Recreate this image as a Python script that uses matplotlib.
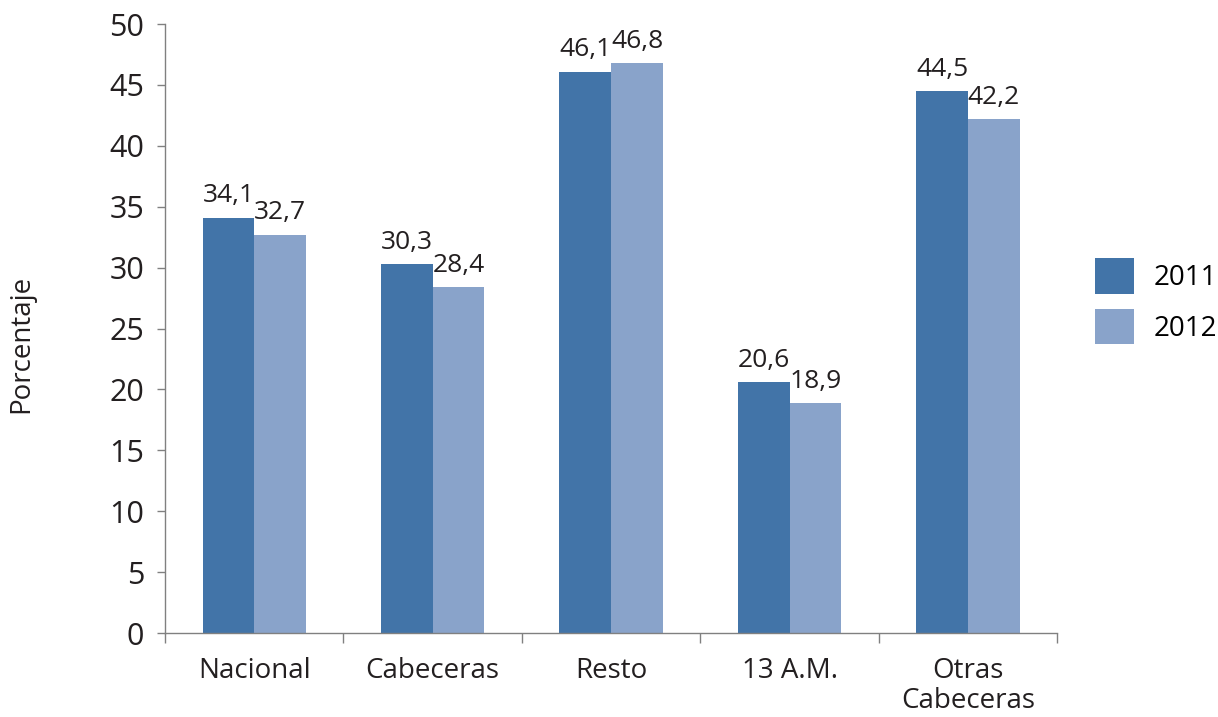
import matplotlib.pyplot as plt
import numpy as np

plt.rcParams['font.family'] = ['Open Sans', 'DejaVu Sans']

categorias = ['Nacional', 'Cabeceras', 'Resto', '13 A.M.', 'Otras\nCabeceras']
anios = ['2011', '2012']
valores_2011 = [34.1, 30.3, 46.1, 20.6, 44.5]
valores_2012 = [32.7, 28.4, 46.8, 18.9, 42.2]
colores = ['#4274a8', '#89a3ca']
texto = '#231f20'


def etiqueta(v):
    return f'{v:.1f}'.replace('.', ',')


fig = plt.figure(figsize=(12.18, 7.17), dpi=100)
ax = fig.add_axes([0.1355, 0.117, 0.7325, 0.8495])

x = np.arange(len(categorias))
w = 0.29
series = [valores_2011, valores_2012]
for i, (vals, anio) in enumerate(zip(series, anios)):
    pos = x + (i - 0.5) * w
    ax.bar(pos, vals, width=w, color=colores[i], label=anio)
    for p, v in zip(pos, vals):
        ax.annotate(etiqueta(v), (p, v), xytext=(0, 11), textcoords='offset points',
                    ha='center', va='baseline', fontsize=19, color=texto)

ax.set_xlim(-0.5, len(categorias) - 0.5)
ax.set_ylim(0, 50)
ax.set_yticks(range(0, 51, 5))
ax.tick_params(axis='y', labelsize=22, length=6, width=1, color='#808080',
               labelcolor=texto, pad=9)

ax.set_xticks(np.arange(len(categorias) + 1) - 0.5)
ax.set_xticklabels([])
ax.set_xticks(x, minor=True)
ax.set_xticklabels(categorias, minor=True, fontsize=20, color=texto,
                   linespacing=1.1, va='top')
ax.tick_params(axis='x', which='major', length=7, width=1, color='#808080')
ax.tick_params(axis='x', which='minor', length=0, pad=17)

for s in ['top', 'right']:
    ax.spines[s].set_visible(False)
for s in ['left', 'bottom']:
    ax.spines[s].set_color('#808080')
    ax.spines[s].set_linewidth(1)

ax.set_ylabel('Porcentaje', fontsize=20, color=texto)
ax.yaxis.set_label_coords(-0.145, 0.475)

leg = ax.legend(loc='center left', bbox_to_anchor=(1.03, 0.545), frameon=False,
                fontsize=20, handlelength=1.4, handleheight=1.6,
                handletextpad=0.7, labelspacing=0.55, borderaxespad=0)

fig.savefig('out.png', dpi=100)
